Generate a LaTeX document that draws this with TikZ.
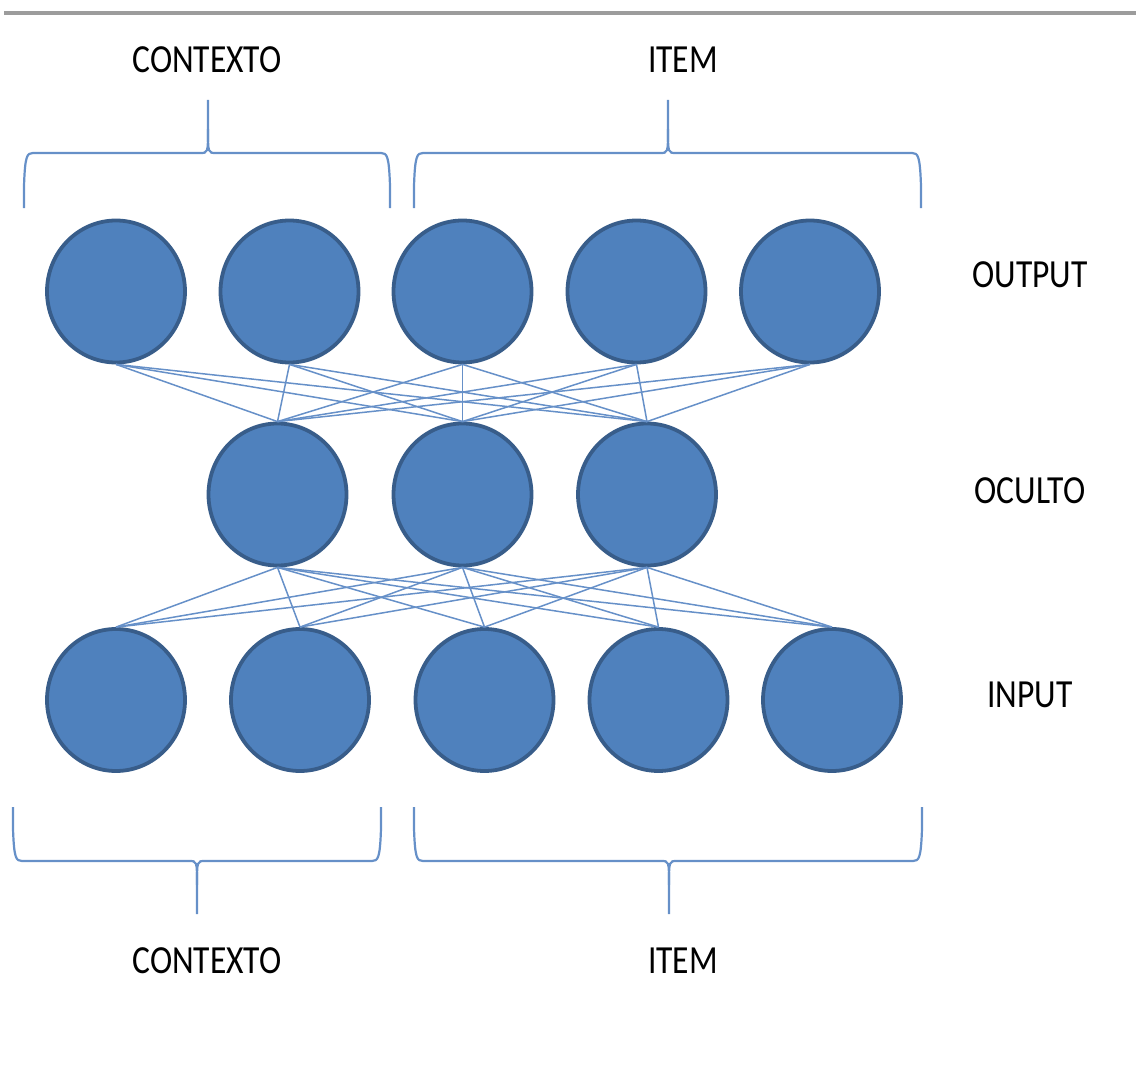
\documentclass[tikz,border=0pt]{standalone}
\usepackage{fontspec}
\setmainfont{Carlito}
\usetikzlibrary{shapes.geometric,calc}

\definecolor{unitfill}{HTML}{4F81BD}
\definecolor{unitedge}{HTML}{385D8A}
\definecolor{linkblue}{HTML}{6690C8}
\definecolor{rulegray}{HTML}{9C9C9C}

\tikzset{
  unit/.style={ellipse, fill=unitfill, draw=unitedge, line width=3.8pt,
               minimum width=138pt, minimum height=142pt, inner sep=0pt},
  link/.style={draw=linkblue, line width=1.5pt},
  bracestyle/.style={draw=linkblue, line width=2.2pt},
  label/.style={anchor=base, inner sep=0pt, text=black,
                font=\fontsize{33.5}{40}\selectfont},
}

% brace: x-left, x-right, x-middle, y at the ends, y of the bar, y of the tip
\newcommand\drawbrace[6]{%
  \draw[bracestyle]
    (#1,#4) -- (#1,{#4+0.4*(#5-#4)}) .. controls (#1+1,{#5-0.05*(#5-#4)}) and (#1+3,#5) .. (#1+9,#5)
    -- (#3-8,#5) .. controls (#3,#5) .. (#3,{#5+0.45*(#6-#5)}) -- (#3,#6);
  \draw[bracestyle]
    (#3,{#5+0.45*(#6-#5)}) .. controls (#3,#5) .. (#3+8,#5)
    -- (#2-9,#5) .. controls (#2-3,#5) and (#2-1,{#5-0.05*(#5-#4)}) .. (#2,{#4+0.4*(#5-#4)}) -- (#2,#4);
}
\newcommand\lbl[1]{\scalebox{1}[1.19]{#1}}

\begin{document}
\begin{tikzpicture}[x=1pt, y=-1pt]
  \useasboundingbox (0,0) rectangle (1136,1065);

  % rule across the top
  \draw[rulegray, line width=4pt] (4,13) -- (1136,13);

  % output layer
  \node[unit] (o1) at (116,291.5) {};
  \node[unit] (o2) at (289.5,291.5) {};
  \node[unit] (o3) at (462.5,291.5) {};
  \node[unit] (o4) at (636.5,291.5) {};
  \node[unit] (o5) at (810,291.5) {};

  % hidden layer
  \node[unit] (h1) at (277.5,494.5) {};
  \node[unit] (h2) at (462.5,494.5) {};
  \node[unit] (h3) at (647,494.5) {};

  % input layer
  \node[unit] (i1) at (116,700) {};
  \node[unit] (i2) at (300,700) {};
  \node[unit] (i3) at (484.5,700) {};
  \node[unit] (i4) at (658.5,700) {};
  \node[unit] (i5) at (832,700) {};

  % full connections between consecutive layers
  \foreach \o in {o1,o2,o3,o4,o5}
    \foreach \h in {h1,h2,h3}
      \draw[link] (\o.south) -- (\h.north);
  \foreach \h in {h1,h2,h3}
    \foreach \i in {i1,i2,i3,i4,i5}
      \draw[link] (\h.south) -- (\i.north);

  % group braces
  \drawbrace{24}{390}{208}{208}{153}{100}
  \drawbrace{414}{921}{668}{208}{153}{100}
  \drawbrace{13}{381}{197}{807}{861}{914}
  \drawbrace{414}{922}{669}{807}{861}{914}

  % labels
  \node[label] (ctop) at (207,73) {\lbl{CONTEXTO}};
  \node[label] (itop) at (683,73) {\lbl{ITEM}};
  \node[label] (lout) at (1030,287) {\lbl{OUTPUT}};
  \node[label] (lhid) at (1030,503) {\lbl{OCULTO}};
  \node[label] (lin)  at (1030,707) {\lbl{INPUT}};
  \node[label] (cbot) at (207,973) {\lbl{CONTEXTO}};
  \node[label] (ibot) at (683,973) {\lbl{ITEM}};
\end{tikzpicture}
\end{document}
